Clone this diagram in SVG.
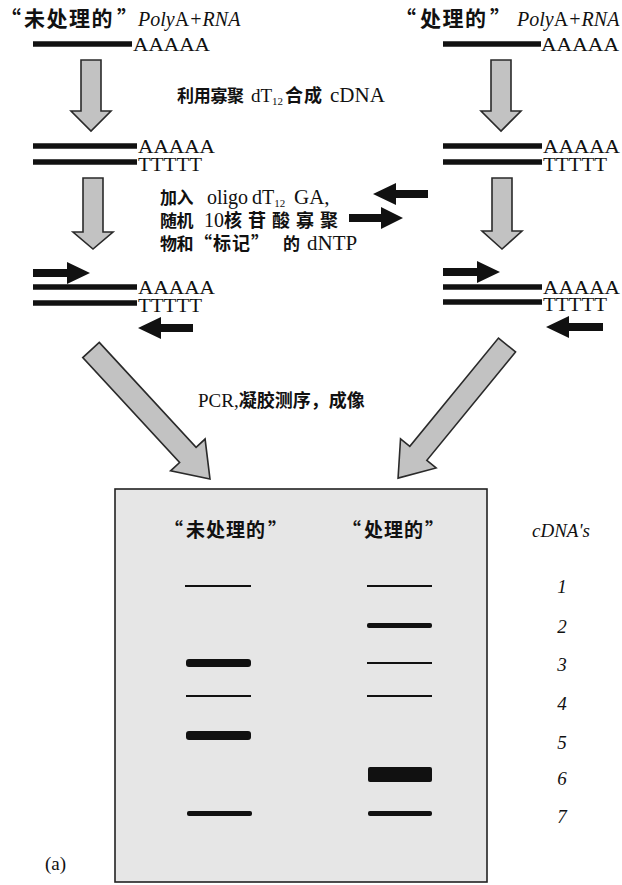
<svg xmlns="http://www.w3.org/2000/svg" width="622" height="885" viewBox="0 0 622 885">
<style>
.t{font-family:'Liberation Serif','Noto Sans CJK SC',serif;fill:#111}
.c{font-family:'Noto Sans CJK SC',sans-serif}
.b{font-weight:bold}
.i{font-style:italic}
.blk{fill:#c2c2c2;stroke:#2a2a2a;stroke-width:1.6;stroke-linejoin:miter}
.s{stroke:#111;stroke-width:5.5}
.p{fill:#111}
.band{fill:#111}
.nt{font-size:19px}
</style>
<defs>
<polygon id="diag" class="blk" points="0,-11 140,-11 140,-23 172,0 140,23 140,11 0,11"/>
</defs>
<rect width="622" height="885" fill="#ffffff"/>

<g id="title-left">
<text class="t" y="26" font-size="21"><tspan x="0" class="c b">“</tspan><tspan x="24" class="c b" letter-spacing="1.5">未处理的</tspan><tspan x="117" class="c b">”</tspan><tspan x="138" class="i" font-size="20">Poly</tspan><tspan font-size="20">A</tspan><tspan class="i" font-size="20">+RNA</tspan></text>
</g>
<g id="title-right">
<text class="t" y="26" font-size="21"><tspan x="395" class="c b">“</tspan><tspan x="420" class="c b" letter-spacing="1.5">处理的</tspan><tspan x="490" class="c b">”</tspan><tspan x="517" class="i" font-size="20">Poly</tspan><tspan font-size="20">A</tspan><tspan class="i" font-size="20">+RNA</tspan></text>
</g>

<g id="rna-left">
<line class="s" x1="33" y1="44" x2="132" y2="44"/>
<text class="t nt" x="133" y="51" textLength="77" lengthAdjust="spacingAndGlyphs">AAAAA</text>
</g>
<g id="rna-right">
<line class="s" x1="443" y1="44" x2="541" y2="44"/>
<text class="t nt" x="541" y="51" textLength="78" lengthAdjust="spacingAndGlyphs">AAAAA</text>
</g>

<g id="label-synth">
<text class="t" y="102" font-size="19"><tspan x="177" class="c b" font-size="17" letter-spacing="-0.3">利用寡聚</tspan><tspan x="251">dT</tspan><tspan font-size="11" dy="3">12</tspan><tspan x="285" dy="-3" class="c b" font-size="18" letter-spacing="1">合成</tspan><tspan x="330" font-size="21">cDNA</tspan></text>
</g>

<g id="cdna-left">
<line class="s" x1="33" y1="146" x2="137" y2="146"/>
<line class="s" x1="33" y1="162" x2="137" y2="162"/>
<text class="t nt" x="138" y="152.5" textLength="77" lengthAdjust="spacingAndGlyphs">AAAAA</text>
<text class="t nt" x="138" y="171" textLength="64" lengthAdjust="spacingAndGlyphs">TTTTT</text>
</g>
<g id="cdna-right">
<line class="s" x1="443" y1="146" x2="542" y2="146"/>
<line class="s" x1="443" y1="162" x2="542" y2="162"/>
<text class="t nt" x="543" y="152.5" textLength="77" lengthAdjust="spacingAndGlyphs">AAAAA</text>
<text class="t nt" x="543" y="171" textLength="64" lengthAdjust="spacingAndGlyphs">TTTTT</text>
</g>

<g id="label-add">
<text class="t" font-size="20">
<tspan x="160" y="204" class="c b" font-size="17" letter-spacing="-0.5">加入</tspan><tspan x="207">oligo</tspan><tspan x="252">dT</tspan><tspan font-size="11" dy="3">12</tspan><tspan x="294" dy="-3" font-size="21">GA,</tspan>
<tspan x="160" y="227" class="c b" font-size="17" letter-spacing="-0.5">随机</tspan><tspan x="204">10</tspan><tspan x="224" class="c b" font-size="18" letter-spacing="6">核苷酸寡聚</tspan>
<tspan x="160" y="250" class="c b" font-size="17" letter-spacing="-0.5">物和</tspan><tspan x="194" class="c b" font-size="18" letter-spacing="1">“标记”</tspan><tspan x="283" class="c b" font-size="17">的</tspan><tspan x="307" font-size="21">dNTP</tspan>
</text>
</g>

<g id="primers-middle">
<polygon class="p" points="428,190 396,190 396,183 373,194 396,205 396,198 428,198"/>
<polygon class="p" points="349,214 381,214 381,207 403,218 381,229 381,222 349,222"/>
</g>

<g id="products-left">
<line class="s" x1="33" y1="287" x2="137" y2="287"/>
<line class="s" x1="33" y1="303" x2="137" y2="303"/>
<text class="t nt" x="138" y="293.5" textLength="77" lengthAdjust="spacingAndGlyphs">AAAAA</text>
<text class="t nt" x="138" y="312" textLength="64" lengthAdjust="spacingAndGlyphs">TTTTT</text>
<polygon class="p" points="33,269 67,269 67,262 90,273 67,284 67,277 33,277"/>
<polygon class="p" points="193,324 161,324 161,317 138,328 161,339 161,332 193,332"/>
</g>
<g id="products-right">
<line class="s" x1="443" y1="287" x2="542" y2="287"/>
<line class="s" x1="443" y1="302" x2="542" y2="302"/>
<text class="t nt" x="543" y="293.5" textLength="77" lengthAdjust="spacingAndGlyphs">AAAAA</text>
<text class="t nt" x="543" y="311" textLength="64" lengthAdjust="spacingAndGlyphs">TTTTT</text>
<polygon class="p" points="443,268 477,268 477,261 500,272 477,283 477,276 443,276"/>
<polygon class="p" points="603,323 569,323 569,316 546,327 569,338 569,331 603,331"/>
</g>

<g id="label-pcr">
<text class="t" x="198" y="407" font-size="19">PCR,<tspan class="c b" font-size="18">凝胶测序，成像</tspan></text>
</g>

<g id="connectors">
<polygon class="blk" points="81,60 101,60 101,111 111,111 91,131 71,111 81,111"/>
<polygon class="blk" points="491,60 511,60 511,111 521,111 501,131 481,111 491,111"/>
<polygon class="blk" points="83,178 103,178 103,232 113,232 93,249 73,232 83,232"/>
<polygon class="blk" points="492,178 512,178 512,231 522,231 502,249 482,231 492,231"/>
<use href="#diag" transform="translate(91,350) rotate(47.3) scale(1.02)"/>
<use href="#diag" transform="translate(507,345) rotate(129.3)"/>
</g>

<g id="gel">
<rect x="115" y="489" width="372" height="393" fill="#e6e6e6" stroke="#222" stroke-width="1.6"/>
<text class="t" y="537" font-size="19"><tspan x="164" class="c b">“</tspan><tspan x="186" class="c b" letter-spacing="1">未处理的</tspan><tspan x="268" class="c b">”</tspan></text>
<text class="t" y="537" font-size="19"><tspan x="342" class="c b">“</tspan><tspan x="364" class="c b" letter-spacing="1">处理的</tspan><tspan x="425" class="c b">”</tspan></text>
<rect class="band" x="185" y="585" width="66" height="2"/>
<rect class="band" x="367" y="585" width="65" height="2"/>
<rect class="band" x="367" y="623" width="65" height="5" rx="2"/>
<rect class="band" x="186" y="659" width="65" height="8" rx="3"/>
<rect class="band" x="367" y="662" width="65" height="2"/>
<rect class="band" x="186" y="695" width="65" height="2"/>
<rect class="band" x="367" y="695" width="65" height="2"/>
<rect class="band" x="186" y="731" width="65" height="9" rx="3"/>
<rect class="band" x="368" y="767" width="64" height="15" rx="2"/>
<rect class="band" x="187" y="811" width="65" height="5" rx="2"/>
<rect class="band" x="368" y="811" width="64" height="5" rx="2"/>
</g>

<g id="lane-labels">
<text class="t i" x="532" y="537" font-size="19">cDNA's</text>
<text class="t i" x="562" y="593" font-size="19" text-anchor="middle">1</text>
<text class="t i" x="562" y="633" font-size="19" text-anchor="middle">2</text>
<text class="t i" x="562" y="671" font-size="19" text-anchor="middle">3</text>
<text class="t i" x="562" y="710" font-size="19" text-anchor="middle">4</text>
<text class="t i" x="562" y="749" font-size="19" text-anchor="middle">5</text>
<text class="t i" x="562" y="785" font-size="19" text-anchor="middle">6</text>
<text class="t i" x="562" y="823" font-size="19" text-anchor="middle">7</text>
</g>

<g id="panel-label">
<text class="t" x="45" y="870" font-size="19">(a)</text>
</g>
</svg>
